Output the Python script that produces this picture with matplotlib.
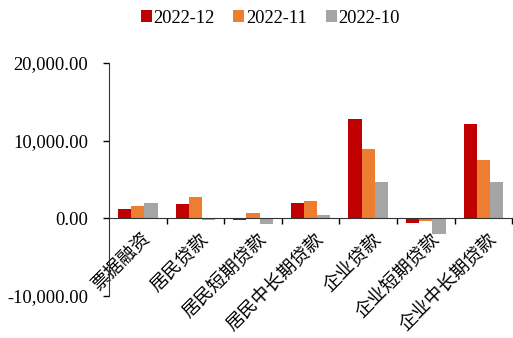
import numpy as np
import matplotlib
matplotlib.use('Agg')
import matplotlib.pyplot as plt
from matplotlib.ticker import FuncFormatter

plt.rcParams['font.family'] = ['Liberation Serif', 'Noto Sans CJK SC']

categories = ['票据融资', '居民贷款', '居民短期贷款', '居民中长期贷款',
              '企业贷款', '企业短期贷款', '企业中长期贷款']
series_names = ['2022-12', '2022-11', '2022-10']
v_2022_12 = [1250, 1860, -230, 1940, 12740, -600, 12180]
v_2022_11 = [1640, 2710, 650, 2280, 8950, -300, 7450]
v_2022_10 = [1990, -250, -690, 480, 4740, -2010, 4740]
colors = ['#C00000', '#ED7D31', '#A5A5A5']

fig = plt.figure(figsize=(5.13, 3.38), dpi=100)
ax = fig.add_axes([0.2125, 0.1243, 0.786, 0.6893])

x = np.arange(len(categories))
w = 0.23
for i, (vals, c, name) in enumerate(zip([v_2022_12, v_2022_11, v_2022_10], colors, series_names)):
    ax.bar(x + (i - 1) * w, vals, width=w, color=c, label=name)

ax.set_xlim(-0.5, len(categories) - 0.5)
ax.set_ylim(-10000, 20000)
ax.set_yticks([-10000, 0, 10000, 20000])
ax.yaxis.set_major_formatter(FuncFormatter(lambda v, p: f'{v:,.2f}'))
ax.tick_params(axis='y', direction='out', length=4, width=1, pad=11, labelsize=13.3)

ax.spines['top'].set_visible(False)
ax.spines['right'].set_visible(False)
ax.spines['bottom'].set_position(('data', 0))
ax.spines['left'].set_color('#333333')
ax.spines['bottom'].set_color('#333333')

# category boundaries get the ticks, centres get the labels
ax.set_xticks(np.arange(len(categories)) + 0.5)
ax.set_xticklabels([])
ax.tick_params(axis='x', which='major', direction='out', length=4, width=1)
ax.set_xticks(x + 0.08, minor=True)
ax.set_xticklabels(categories, minor=True, rotation=45, ha='right',
                   rotation_mode='anchor', fontsize=13.3)
ax.tick_params(axis='x', which='minor', length=0, pad=9)

fig.legend(loc='upper center', bbox_to_anchor=(0.527, 1.02), ncol=3, frameon=False,
           fontsize=13.3, handlelength=0.6, handleheight=0.6, handletextpad=0.1,
           columnspacing=1.0)

fig.savefig('out.png', dpi=100)
